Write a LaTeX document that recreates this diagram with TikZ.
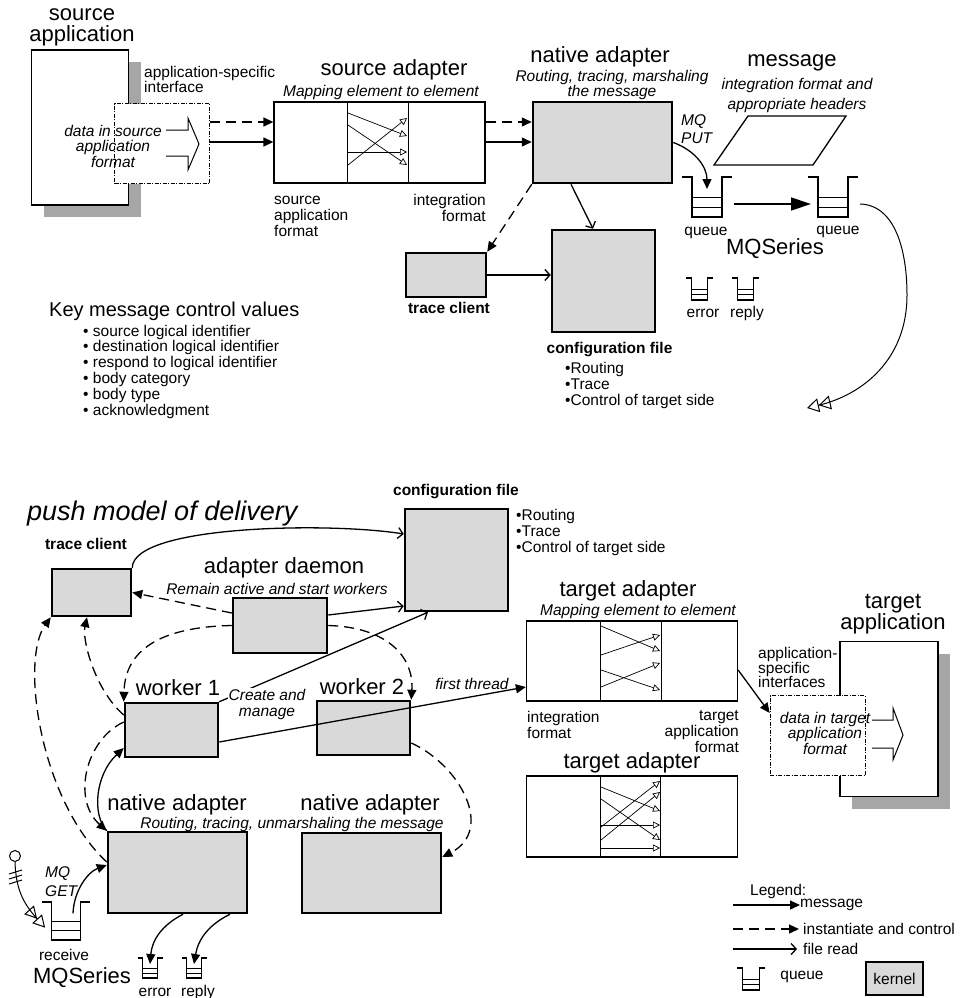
\documentclass[tikz,border=0pt]{standalone}
\usepackage{fontspec}
\setmainfont{Liberation Sans}
\usepackage{tikz}
\usetikzlibrary{arrows.meta,
                shadows,
                positioning}
\definecolor{kgray}{HTML}{D9D9D9}
\definecolor{sgray}{HTML}{A6A6A6}

\tikzset{
pics/mq/.style = {code = {
    \draw[line width=1.2pt] (-25,-40) -- (-15,-40) -- (-15,0) -- (15,0) -- (15,-40) -- (25,-40);
    \draw[line width=0.6pt] (-15,-10) -- (15,-10) (-15,-20) -- (15,-20);
    \coordinate (-in)   at (0,-28);
    \coordinate (-east) at (27,-13);
    \coordinate (-west) at (-22,-13);
    }}
}

\begin{document}
\begin{tikzpicture}[
x=1pt, y=-1pt,
every node/.style = {inner sep=0pt, font=\fontsize{15.5}{16}\selectfont},
ttl/.style    = {font=\fontsize{22}{21}\selectfont, align=center},
sub/.style    = {font=\fontsize{15.5}{15.5}\selectfont\itshape, align=center},
bld/.style    = {font=\fontsize{15.5}{16}\selectfont\bfseries},
kernel/.style = {draw, line width=2.5pt, fill=kgray},
adp/.style    = {draw, line width=1.3pt, minimum width=211, minimum height=80},
appbox/.style = {draw, line width=1.3pt, fill=white, minimum width=97, minimum height=155,
                 drop shadow={shadow xshift=12pt, shadow yshift=-12pt, fill=sgray, opacity=1}},
databox/.style = {draw, line width=0.7pt, fill=white, dash pattern=on 4pt off 1.5pt on 1pt off 1.5pt,
                 minimum width=95, minimum height=80},
msg/.style    = {line width=1.3pt, -{Triangle[length=10pt,width=9pt]}},
ctl/.style    = {msg, dash pattern=on 10pt off 6pt},
fread/.style  = {line width=1.3pt, -{Straight Barb[length=5pt,width=11pt]}},
map/.style    = {line width=0.7pt, -{Triangle[open,length=7pt,width=7pt]}},
dbl/.style    = {line width=1pt, -{Triangle[open,length=12pt,width=14pt]Triangle[open,length=12pt,width=14pt]}},
                        ]
\useasboundingbox (0,0) rectangle (963,998);

% source side
\node[ttl] (srcT) at (82,27) {source\\application};
\node[appbox] (srcapp) at (80,127.5) {};
\node[anchor=west, align=left, font=\fontsize{15.5}{15}\selectfont] (ifc) at (144,79) {application-specific\\interface};
\node[databox] (srcdata) at (162,143.5) {};
\node[sub] (srcdataT) at (113,146) {data in source\\application\\format};
\draw[line width=1pt] (166,130) -- (188,130) -- (188,118) -- (199,144) -- (188,170) -- (188,156) -- (166,156);

% source adapter
\node[ttl] (srcadpT) at (394,70) {source adapter};
\node[sub] (srcadpS) at (381,92) {Mapping element to element};
\node[adp, minimum height=81] (srcadp) at (379.5,142.5) {};
\draw[line width=1pt] (347,102) -- (347,183) (408,102) -- (408,183);
\foreach \a/\b in {113/136, 125/165, 152/152, 165/118}
    \draw[map] (348,\a) -- (407,\b);
\node[anchor=west, align=left] (srcfmt) at (274,216) {source\\application\\format};
\node[anchor=east, align=right] (intfmt) at (486,208) {integration\\format};
\draw[ctl] ([yshift=21.5pt]srcdata.east) -- ([yshift=20.5pt]srcadp.west);
\draw[msg] ([yshift=1.5pt]srcdata.east) -- ([yshift=0.5pt]srcadp.west);

% native adapter and MQSeries
\node[ttl] (natT) at (600,57) {native adapter};
\node[sub] (natS) at (612,85) {Routing, tracing, marshaling\\the message};
\node[kernel, minimum width=139, minimum height=81] (nat) at (602.5,142.5) {};
\draw[ctl] ([yshift=20.5pt]srcadp.east) -- ([yshift=20.5pt]nat.west);
\draw[msg] ([yshift=0.5pt]srcadp.east) -- ([yshift=0.5pt]nat.west);
\node[sub, align=left, anchor=west, font=\fontsize{15.5}{18}\selectfont\itshape] (put) at (681,129) {MQ\\PUT};

\pic (q1) at (707,217) {mq};
\pic (q2) at (833,217) {mq};
\node (q1L) at (706,233) {queue};
\node (q2L) at (838,232) {queue};
\node[ttl] (mqs1) at (775,249) {MQSeries};
\pic[scale=.55] (qe1) at (699.5,300) {mq};
\pic[scale=.55] (qr1) at (745.5,300) {mq};
\node (qe1L) at (703,313) {error};
\node (qr1L) at (747,313) {reply};
\draw[msg] (nat.east) .. controls +(22,8) and +(0,-22) .. (q1-in);
\draw[line width=1.3pt, -{Triangle[length=20pt,width=13pt]}] (q1-east) -- (q2-west);
\coordinate (tgtside) at (807,408);
\draw[dbl] (q2-east) .. controls (895,205) and (907,250) .. (907,295)
                     .. controls (907,360) and (862,395) .. (tgtside);

% message
\draw[line width=1.3pt] (714,165) -- (748,116) -- (846,116) -- (813,165) -- cycle;
\node[ttl] (msgT) at (792,63) {message};
\node[sub, font=\fontsize{15.5}{20}\selectfont\itshape] (msgS) at (797,95) {integration format and\\appropriate headers};

% trace client and configuration file
\node[kernel, minimum width=80, minimum height=44] (trc1) at (446,275) {};
\node[bld] (trc1L) at (449,308) {trace client};
\node[kernel, minimum width=103, minimum height=102] (cfg1) at (603.5,281) {};
\node[bld] (cfg1L) at (609.5,350) {configuration file};
\node[anchor=west, align=left] (cfg1B) at (565,385) {\textbullet Routing\\\textbullet Trace\\\textbullet Control of target side};
\draw[ctl] (nat.south west) -- (trc1.north east);
\draw[fread] ([xshift=-31.5pt]nat.south) -- ([xshift=-10.5pt]cfg1.north);
\draw[fread] (trc1.east) -- (cfg1.west |- trc1.east);

% key values
\node[anchor=west, font=\fontsize{20}{20}\selectfont] (keyT) at (49,311) {Key message control values};
\node[anchor=west, align=left, font=\fontsize{15.5}{15.8}\selectfont] (keyL) at (83,371.5)
    {\textbullet\ source logical identifier\\\textbullet\ destination logical identifier\\
     \textbullet\ respond to logical identifier\\\textbullet\ body category\\
     \textbullet\ body type\\\textbullet\ acknowledgment};

% push model
\node[anchor=west, font=\fontsize{27}{27}\selectfont\itshape] (push) at (27,514) {push model of delivery};
\node[bld] (trc2L) at (86,544) {trace client};
\node[kernel, minimum width=79, minimum height=47] (trc2) at (91.5,592.5) {};
\node[bld] (cfg2L) at (456,492) {configuration file};
\node[kernel, minimum width=103, minimum height=102] (cfg2) at (456.5,560) {};
\node[anchor=west, align=left] (cfg2B) at (516,532) {\textbullet Routing\\\textbullet Trace\\\textbullet Control of target side};
\node[ttl] (dmnT) at (284,568) {adapter daemon};
\node[sub] (dmnS) at (277,589) {Remain active and start workers};
\node[kernel, minimum width=94, minimum height=55] (dmn) at (280,625.5) {};
\node[ttl] (wk1T) at (178,688) {worker 1};
\node[kernel, minimum width=93, minimum height=54] (wk1) at (171.5,730) {};
\node[ttl] (wk2T) at (362,687) {worker 2};
\node[kernel, minimum width=93, minimum height=54] (wk2) at (363.5,728) {};

\draw[fread] (trc2.north east) .. controls (133,525) and (330,522) .. ([yshift=26pt]cfg2.west);
\draw[fread] ([yshift=10.5pt]dmn.east) -- ([yshift=-46pt]cfg2.west);
\draw[ctl] ([yshift=12.5pt]dmn.west) -- (trc2.east);
\draw[ctl] (dmn.west) .. controls (160,627) and (125,650) .. (wk1.north west);
\draw[ctl] (dmn.east) .. controls (385,627) and (414,655) .. (wk2.north east);
\draw[fread] (wk1.north east) -- ([xshift=-28.5pt]cfg2.south);
\node[sub, fill=white, inner sep=1pt, font=\fontsize{15.5}{16}\selectfont\itshape] (crt) at (267,704) {Create and\\manage};

% native adapters
\node[ttl] (nat1T) at (177,805) {native adapter};
\node[ttl] (nat2T) at (370,805) {native adapter};
\node[sub] (natS2) at (292,824) {Routing, tracing, unmarshaling the message};
\node[kernel, minimum width=139, minimum height=81] (nat1) at (177.5,872.5) {};
\node[kernel, minimum width=139, minimum height=80] (nat2) at (371.5,873) {};

\draw[ctl] ([yshift=15pt]wk1.west) .. controls (95,690) and (82,640) .. ([xshift=-4.5pt]trc2.south);
\draw[ctl] ([yshift=8pt]wk1.west) .. controls (85,740) and (72,800) .. (nat1.north west);
\draw[ctl] ([yshift=10.5pt]nat1.west) .. controls (40,800) and (20,660) .. (trc2.south west);
\draw[msg] (nat1.north west) .. controls (92,815) and (95,775) .. ([yshift=-18pt]wk1.west);
\draw[ctl] ([yshift=-15pt]wk2.east) .. controls (460,765) and (495,830) .. ([yshift=16pt]nat2.east);

% receive side
\pic[scale=.95] (rq) at (66,940) {mq};
\node (rqL) at (64,955) {receive};
\node[ttl] (mqs2) at (82,978) {MQSeries};
\node[sub, align=left, anchor=west, font=\fontsize{15.5}{19}\selectfont\itshape] (get) at (45,881.5) {MQ\\GET};
\draw[msg] ([xshift=7pt]rq-in) .. controls (74,890) and (88,872) .. ([yshift=7.5pt]nat1.west);
\node[draw, circle, line width=1pt, minimum size=11] (lolli) at (15,856) {};
\foreach \t in {872,877,882}
    \draw[line width=1pt] (9,{\t+2}) -- (22,{\t-2});
\draw[line width=1pt, -{Triangle[open,length=12pt,width=13pt]Triangle[open,length=12pt,width=13pt]}]
    (lolli.south) .. controls (16,888) and (22,902) .. (rq-west);

\pic[scale=.5] (qe2) at (150,978) {mq};
\pic[scale=.5] (qr2) at (194,978) {mq};
\node (qe2L) at (155,992) {error};
\node (qr2L) at (198,992) {reply};
\draw[msg] ([xshift=5.5pt]nat1.south) .. controls (162,925) and (152,940) .. (qe2-in);
\draw[msg] ([xshift=52.5pt]nat1.south) .. controls (208,925) and (198,940) .. (qr2-in);

% target adapters
\node[ttl] (tgt1T) at (628,591) {target adapter};
\node[sub] (tgt1S) at (638,611) {Mapping element to element};
\node[adp] (tgt1) at (632,661) {};
\draw[line width=1pt] (600,621) -- (600,701) (661,621) -- (661,701);
\foreach \a/\b in {626/651, 655/635, 670/690, 687/663}
    \draw[map] (601,\a) -- (660,\b);
\node[anchor=west, align=left] (tgt1a) at (527,724.5) {integration\\format};
\node[anchor=east, align=right] (tgt1b) at (739,731.5) {target\\application\\format};
\draw[msg] ([yshift=-12pt]wk1.east) -- ([yshift=-26pt]tgt1.west);
\node[sub] (thr) at (472,684) {first thread};

\node[ttl] (tgt2T) at (632,763) {target adapter};
\node[adp, minimum height=81] (tgt2) at (632,816.5) {};
\draw[line width=1pt] (600,776) -- (600,857) (660.5,776) -- (660.5,857);
\foreach \a/\b in {787/811, 799/840, 825/825, 827/781, 840/792, 848/848}
    \draw[map] (601,\a) -- (660,\b);

% target application
\node[ttl] (tappT) at (893,614) {target\\application};
\node[appbox, minimum width=98, minimum height=155] (tapp) at (889,719) {};
\node[anchor=west, align=left, font=\fontsize{15.5}{14.5}\selectfont] (tifc) at (758,667.5) {application-\\specific\\interfaces};
\node[databox] (tdata) at (817.5,735.5) {};
\node[sub] (tdataT) at (825,733) {data in target\\application\\format};
\draw[line width=1pt] (872,720) -- (893,720) -- (893,708) -- (903,735) -- (893,760) -- (893,748) -- (872,748);
\draw[msg] ([yshift=-9pt]tgt1.east) -- ([yshift=22.5pt]tdata.west);

% legend
\node[anchor=west] (lgT) at (750,891) {Legend:};
\coordinate (lg1) at (733,905);
\node[anchor=west] (lgmsg) at (800,905) {message};
\draw[msg] (lg1) -- (lgmsg.west);
\coordinate (lg2) at (733,929);
\node[anchor=west] (lgctl) at (803,929) {instantiate and control};
\draw[ctl] (lg2) -- ([xshift=-4pt]lgctl.west);
\coordinate (lg3) at (733,949);
\node[anchor=west] (lgfr) at (803,949) {file read};
\draw[fread] (lg3) -- ([xshift=-6pt]lgfr.west);
\pic[scale=.55] (lgq) at (751,990) {mq};
\node (lgqL) at (802,977) {queue};
\node[kernel, minimum width=57, minimum height=33] (lgk) at (894.5,978.5) {kernel};
\end{tikzpicture}
\end{document}
